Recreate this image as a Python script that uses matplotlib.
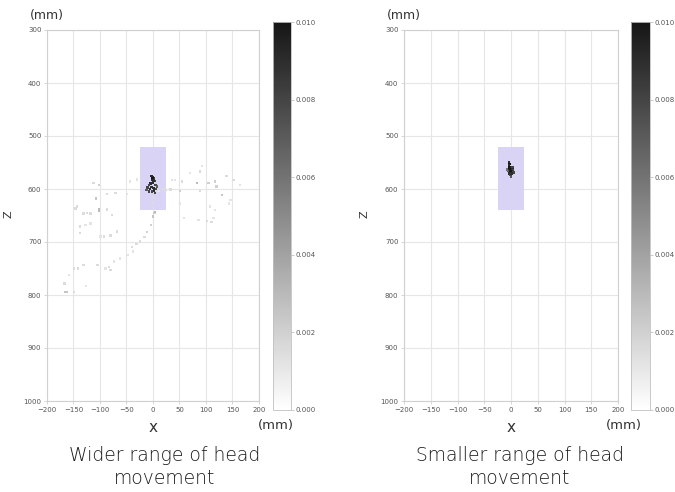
import numpy as np
import matplotlib
matplotlib.use("Agg")
import matplotlib.pyplot as plt
from matplotlib.patches import Rectangle
import matplotlib.colors as mcolors
import matplotlib.cm as cm

plt.rcParams['font.family'] = ['DejaVu Sans']

# left panel: scattered head positions (x, z, value)
wide_x = [-112, -102, -107, -87, -71, -49, -43, -30, 36, 42, 55, 70, 89, 92, 83, 105, 117, 120,
          130, 139, 152, 164, 33, 51, 89, -143, -124, -102, -87, 3,
          -146, -131, -118, -102, -77, -138, -138, -127, -118, -93, -80, -68, -99,
          4, 0, -4, -11, -16, -24, -31, -40, -38, -48, -62, -74, -83, -90, -80, -105,
          -131, -142, -149, -158, -167, -165, -162, -149, -126,
          51, 58, 86, 102, 110, 114, 108, 117, 143, 146, 0, 0, 0, 20, 25, 10]
wide_z = [589, 592, 618, 609, 608, 609, 586, 582, 583, 583, 586, 570, 567, 557, 589, 589, 586, 595,
          611, 576, 583, 592, 601, 604, 604, 633, 645, 639, 639, 645,
          637, 646, 646, 641, 649, 671, 683, 668, 665, 690, 688, 680, 690,
          643, 652, 668, 681, 691, 699, 704, 709, 718, 725, 731, 737, 747, 750, 753, 743,
          743, 750, 750, 762, 778, 794, 794, 794, 783,
          627, 655, 659, 660, 662, 655, 633, 640, 627, 621, 615, 625, 635, 600, 602, 604]
wide_v = [0.0015, 0.002, 0.0025, 0.0015, 0.0015, 0.0012, 0.0012, 0.0012, 0.0012, 0.0012, 0.0015,
          0.0012, 0.0015, 0.0012, 0.003, 0.002, 0.002, 0.002, 0.0025, 0.0015, 0.0015, 0.0012,
          0.0015, 0.002, 0.0015, 0.0015, 0.0015, 0.003, 0.0015, 0.002,
          0.0015, 0.0015, 0.0015, 0.003, 0.0015, 0.0015, 0.0015, 0.0012, 0.0012, 0.0015,
          0.0015, 0.0015, 0.0012,
          0.003, 0.0025, 0.002, 0.002, 0.0015, 0.0015, 0.0015, 0.0015, 0.0012, 0.0012, 0.0012,
          0.0012, 0.0015, 0.0012, 0.0015, 0.0015,
          0.0015, 0.0015, 0.0015, 0.0012, 0.0015, 0.0025, 0.0025, 0.0015, 0.0012,
          0.0012, 0.0012, 0.0012, 0.0015, 0.0015, 0.0012, 0.0012, 0.0012, 0.0012, 0.0012,
          0.0015, 0.0015, 0.0015, 0.0015, 0.0015, 0.0012]

# dense cluster in the middle of the left panel
wide_cx = [-3, 0, 2, -2, 3, 0, -5, -8, -10, -6, 5, 8, 6, 2, -2, -12, 4, -3, 1, -7, -1, 1]
wide_cz = [575, 577, 580, 583, 585, 588, 590, 593, 597, 600, 592, 595, 600, 603, 605, 602, 608, 596, 598, 605, 579, 584]
wide_cv = [0.009, 0.009, 0.008, 0.009, 0.008, 0.009, 0.009, 0.008, 0.008, 0.009, 0.008, 0.007,
           0.008, 0.009, 0.008, 0.007, 0.008, 0.009, 0.009, 0.008, 0.010, 0.009]

# right panel cluster
small_x = [-4, -3, -4, -3, -4, -3, -2, -3, -1, 0, 1, 3, 4, 2, 5, 1, -6, -8, 3, -2, 0]
small_z = [550, 553, 556, 559, 562, 565, 568, 571, 574, 577, 560, 562, 565, 567, 569, 571, 566, 563, 558, 562, 566]
small_v = [0.009, 0.01, 0.009, 0.01, 0.01, 0.009, 0.01, 0.009, 0.008, 0.007, 0.009, 0.009, 0.008,
           0.009, 0.008, 0.009, 0.007, 0.006, 0.008, 0.01, 0.01]

box_x = [-25, 25]
box_z = [520, 640]
cbar_ticks = [0.000, 0.002, 0.004, 0.006, 0.008, 0.010]
captions = ["Wider range of head\nmovement", "Smaller range of head\nmovement"]

W, H = 675, 492
fig = plt.figure(figsize=(W / 100, H / 100), dpi=100)
norm = mcolors.Normalize(vmin=0, vmax=0.01)
cmap = mcolors.LinearSegmentedColormap.from_list('grey', ['#ffffff', '#161616'])


def px(l, t, r, b):
    return [l / W, 1 - b / H, (r - l) / W, (b - t) / H]


def panel(ax_box, cb_box, pts, mm_x):
    ax = fig.add_axes(px(*ax_box))
    ax.add_patch(Rectangle((box_x[0], box_z[0]), box_x[1] - box_x[0], box_z[1] - box_z[0],
                           facecolor='#d9d4f5', edgecolor='none', zorder=1))
    for xs, zs, vs in pts:
        ax.scatter(xs, zs, c=vs, cmap=cmap, norm=norm, s=3, marker='s', linewidths=0, zorder=3)
    ax.set_xlim(-200, 200)
    ax.set_ylim(1000, 300)
    ax.set_xticks(np.arange(-200, 201, 50))
    ax.set_yticks(np.arange(300, 1001, 100))
    ax.grid(True, color='#e6e6e6', lw=0.8, zorder=0)
    ax.set_axisbelow(True)
    for s in ax.spines.values():
        s.set_color('#d0d0d0')
    ax.tick_params(labelsize=5, colors='#d0d0d0', labelcolor='#555555', length=2, width=0.6, pad=2)

    cax = fig.add_axes(px(*cb_box))
    cb = fig.colorbar(cm.ScalarMappable(norm=norm, cmap=cmap), cax=cax, ticks=cbar_ticks)
    cb.ax.set_yticklabels(['%.3f' % t for t in cbar_ticks])
    cb.outline.set_edgecolor('#c0c0c0')
    cb.outline.set_linewidth(0.6)
    cb.ax.tick_params(labelsize=5, colors='#c0c0c0', labelcolor='#555555', length=2, width=0.6, pad=1)

    l, t, r, b = ax_box
    fig.text((l + r) / 2 / W, 1 - 427 / H, 'x', fontsize=11, color='#333333', ha='center', va='center')
    fig.text((l - 39) / W, 1 - 214 / H, 'Z', fontsize=8, color='#333333', ha='center', va='center', rotation=90)
    fig.text(l / W, 1 - 15 / H, '(mm)', fontsize=9, color='#333333', ha='center', va='center')
    fig.text(mm_x / W, 1 - 426 / H, '(mm)', fontsize=9.5, color='#333333', ha='center', va='center')


panel((47, 30, 259, 401), (273, 22, 291, 410),
      [(wide_x, wide_z, wide_v), (wide_cx, wide_cz, wide_cv)], 276)
panel((404, 30, 618, 401), (631, 22, 650, 410),
      [(small_x, small_z, small_v)], 624)

for cx, cap in zip([165, 520], captions):
    fig.text(cx / W, 1 - 467 / H, cap, fontsize=13.5, color='#1a1a1a', ha='center', va='center',
             linespacing=1.3, weight='light')

fig.savefig('out.png', dpi=100)
